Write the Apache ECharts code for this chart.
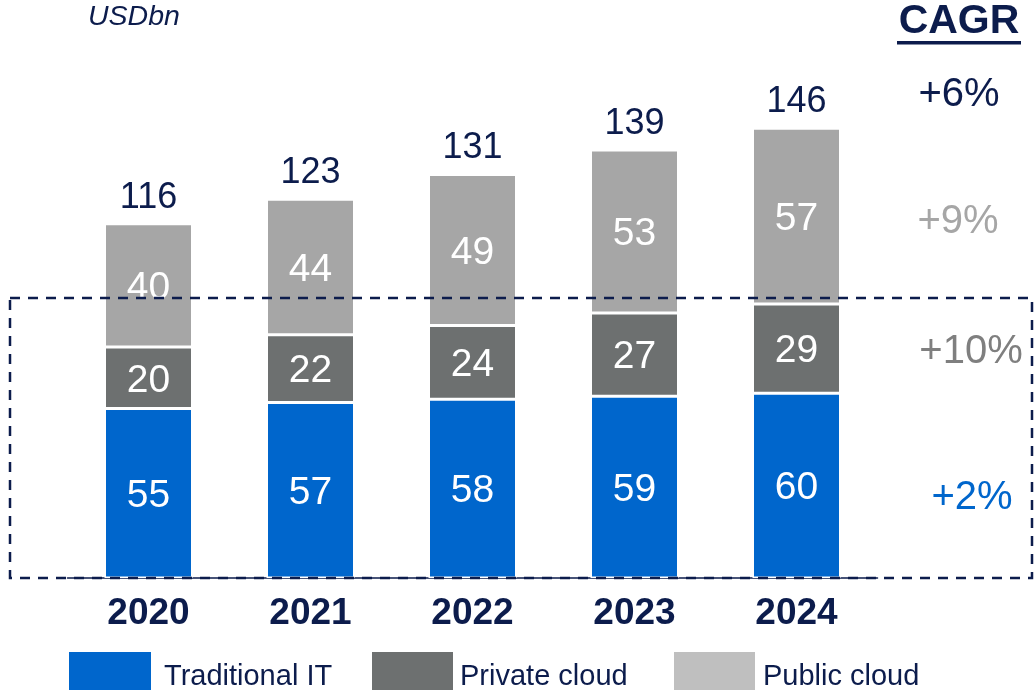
<!DOCTYPE html>
<html><head><meta charset="utf-8">
<script src="https://cdn.jsdelivr.net/npm/echarts@6/dist/echarts.min.js"></script>
<style>html,body{margin:0;padding:0;background:#fff}#c{width:1036px;height:690px}</style>
</head><body><div id="c"></div>
<script>
const categories = ['2020','2021','2022','2023','2024'];
const traditionalIT = [55,57,58,59,60];
const privateCloud = [20,22,24,27,29];
const publicCloud = [40,44,49,53,57];
const totals = [116,123,131,139,146];
const cagrLabels = ['+6%','+9%','+10%','+2%'];

const NAVY = '#0C1C4C';
const FONT = "'Liberation Sans', Arial, sans-serif";
const C_BLUE = '#0066CC', C_DARK = '#6D7070', C_LIGHT = '#A6A6A6', C_LEGLIGHT = '#BFBFBF';

const stackSum = categories.map((_, i) => traditionalIT[i] + privateCloud[i] + publicCloud[i]);

function segLabel() {
  return { show: true, position: 'inside', offset: [0, 3], color: '#fff', fontSize: 39, fontFamily: FONT };
}
const barBase = { type: 'bar', stack: 'total', barWidth: 88 };
const legendText = (pl) => ({ color: NAVY, fontSize: 29, fontFamily: FONT,
  rich: { t: { color: NAVY, fontSize: 29, fontFamily: FONT, padding: [12, 0, 0, pl] } } });

const chart = echarts.init(document.getElementById('c'));
chart.setOption({
  animation: false,
  grid: { left: 67.5, right: 158.5, top: 116, bottom: 112 },
  xAxis: {
    type: 'category', data: categories,
    axisLine: { show: true, lineStyle: { color: NAVY, width: 1.5 } },
    axisTick: { show: false },
    axisLabel: { color: NAVY, fontSize: 37, fontWeight: 'bold', fontFamily: FONT, margin: 17 }
  },
  yAxis: { type: 'value', min: 0, max: 150, show: false },
  legend: [
    { left: 67, top: 650, itemWidth: 84, itemHeight: 40, itemGap: 0, padding: 0, icon: 'rect',
      data: [{ name: 'Traditional IT', itemStyle: { color: C_BLUE } }],
      formatter: n => '{t|' + n + '}', textStyle: legendText(7) },
    { left: 370, top: 650, itemWidth: 83, itemHeight: 40, itemGap: 0, padding: 0, icon: 'rect',
      data: [{ name: 'Private cloud', itemStyle: { color: C_DARK } }],
      formatter: n => '{t|' + n + '}', textStyle: legendText(1) },
    { left: 672, top: 650, itemWidth: 83, itemHeight: 40, itemGap: 0, padding: 0, icon: 'rect',
      data: [{ name: 'Public cloud', itemStyle: { color: C_LEGLIGHT } }],
      formatter: n => '{t|' + n + '}', textStyle: legendText(2) }
  ],
  series: [
    Object.assign({}, barBase, { name: 'Traditional IT', data: traditionalIT, label: segLabel(), itemStyle: { color: C_BLUE, borderColor: '#fff', borderWidth: 1.5 } }),
    Object.assign({}, barBase, { name: 'Private cloud', data: privateCloud, label: segLabel(), itemStyle: { color: C_DARK, borderColor: '#fff', borderWidth: 1.5 } }),
    Object.assign({}, barBase, { name: 'Public cloud', data: publicCloud, label: segLabel(), itemStyle: { color: C_LIGHT, borderColor: '#fff', borderWidth: 1.5 } }),
    { type: 'scatter', name: 'Total', data: stackSum, symbolSize: 2, itemStyle: { color: 'rgba(0,0,0,0)', opacity: 1 },
      label: { show: true, position: 'top', distance: 7, color: NAVY, fontSize: 36, fontFamily: FONT,
        formatter: p => String(totals[p.dataIndex]) }, z: 5 }
  ],
  graphic: [
    { type: 'rect', shape: { x: 10, y: 298, width: 1022, height: 280 },
      style: { fill: 'none', stroke: NAVY, lineWidth: 2.5, lineDash: [10, 8] }, z: 10, silent: true },
    { type: 'text', left: 88, top: 3, style: { text: 'USDbn', fill: NAVY, font: "italic 28.5px " + FONT } },
    { type: 'text', x: 959, y: 22, style: { text: 'CAGR', fill: NAVY, font: "bold 41px " + FONT, align: 'center', verticalAlign: 'middle' } },
    { type: 'rect', shape: { x: 897, y: 41, width: 124, height: 3.5 }, style: { fill: NAVY } },
    { type: 'text', x: 959, y: 95, style: { text: cagrLabels[0], fill: NAVY, font: "40px " + FONT, align: 'center', verticalAlign: 'middle' } },
    { type: 'text', x: 958, y: 222, style: { text: cagrLabels[1], fill: '#A6A6A6', font: "40px " + FONT, align: 'center', verticalAlign: 'middle' } },
    { type: 'text', x: 971, y: 352, style: { text: cagrLabels[2], fill: '#7F7F7F', font: "40px " + FONT, align: 'center', verticalAlign: 'middle' } },
    { type: 'text', x: 972, y: 498, style: { text: cagrLabels[3], fill: C_BLUE, font: "40px " + FONT, align: 'center', verticalAlign: 'middle' } }
  ]
});
</script></body></html>
